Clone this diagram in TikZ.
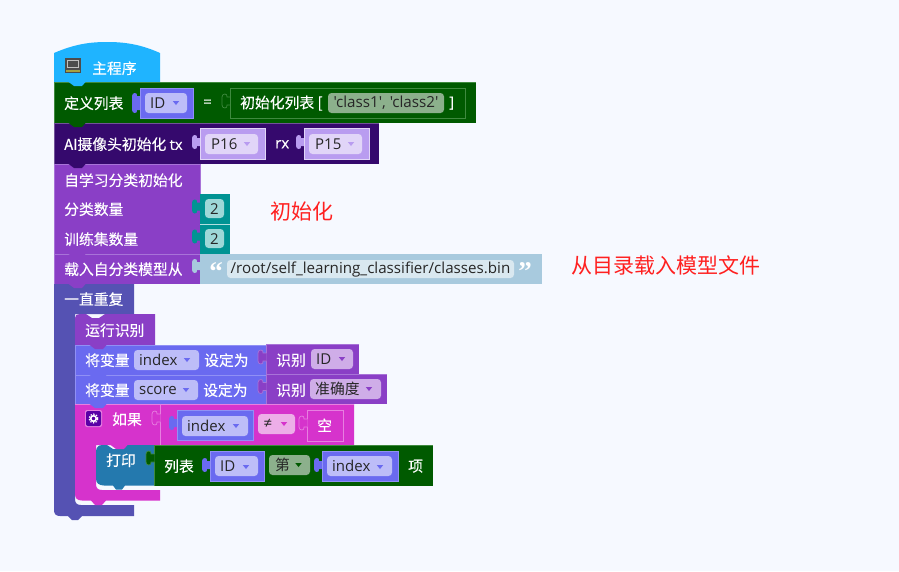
\documentclass[tikz,border=0pt]{standalone}
\usepackage{fontspec}
\setmainfont{Open Sans}
\newfontfamily\cjk{Noto Sans CJK SC}
\newfontfamily\cjkb[FakeBold=0.25]{Noto Sans CJK SC}
\newfontfamily\latb[FakeBold=0.25]{Open Sans}
\newfontfamily\lit[Ligatures=TeXOff]{Open Sans}
\newfontfamily\quotefont{Liberation Serif}
\definecolor{bgc}{HTML}{F6F9FF}
\definecolor{hatc}{HTML}{1FB4FF}
\definecolor{greenc}{HTML}{005A00}
\definecolor{greenl}{HTML}{3F8A3F}
\definecolor{darkp}{HTML}{35096D}
\definecolor{lilac}{HTML}{B99CF0}
\definecolor{lilacl}{HTML}{E1D5F8}
\definecolor{purp}{HTML}{8A3FC6}
\definecolor{purpl}{HTML}{A873D8}
\definecolor{purpp}{HTML}{CFADE8}
\definecolor{teal}{HTML}{009393}
\definecolor{tealp}{HTML}{9ED8D8}
\definecolor{strc}{HTML}{A8CADE}
\definecolor{strp}{HTML}{D9E8F0}
\definecolor{loopc}{HTML}{5552B3}
\definecolor{varc}{HTML}{6A6AF0}
\definecolor{varl}{HTML}{9090F5}
\definecolor{varp}{HTML}{BDBDF8}
\definecolor{mag}{HTML}{D633CC}
\definecolor{magl}{HTML}{E77FE0}
\definecolor{magp}{HTML}{EDAEE8}
\definecolor{printc}{HTML}{2479AE}
\definecolor{grnp}{HTML}{8CB08C}
\definecolor{redc}{HTML}{FF2020}
\tikzset{
  x=1pt,y=-1pt,
  lbl/.style={text=white,inner sep=0pt,anchor=west,yshift=-.2pt,font=\cjkb\fontsize{14.8}{16}\selectfont},
  latlbl/.style={text=white,inner sep=0pt,anchor=west,yshift=-.2pt,font=\latb\fontsize{15}{16}\selectfont},
  dark/.style={text=black!85,inner sep=0pt,yshift=-.2pt,font=\fontsize{15}{16}\selectfont},
  darkcjk/.style={text=black!85,inner sep=0pt,anchor=west,yshift=-.2pt,font=\cjk\fontsize{14.8}{16}\selectfont},
  note/.style={text=redc,inner sep=0pt,anchor=west,yshift=-.8pt,font=\cjk\fontsize{21}{24}\selectfont},
  quote/.style={text=white,inner sep=0pt,font=\quotefont\bfseries\fontsize{27}{27}\selectfont},
}
% statement block
\newcommand{\blk}[6]{\fill[#5] (#1,#2) rectangle (#3,#4);\draw[#6,line width=.8pt] (#1,#4) -- (#1,#2) -- (#3,#2);}
% notch below a statement
\newcommand{\ntch}[3]{\fill[#3] (#1+14,#2-.5) -- (#1+20,#2+4) -- (#1+28,#2+4) -- (#1+32,#2-.5) -- cycle;}
% tab path: x of the block's left edge, centre y, half height
\newcommand{\tabpath}[3]{(#1+.5,#2-#3+3) -- (#1-3,#2-#3+3) .. controls (#1-2,#2-#3-1) and (#1-8,#2-#3-1) .. (#1-8,#2-#3+3) -- (#1-8,#2+#3-3) .. controls (#1-8,#2+#3+1) and (#1-2,#2+#3+1) .. (#1-3,#2+#3-3) -- (#1+.5,#2+#3-3)}
\newcommand{\tabb}[3]{\fill[#3] \tabpath{#1}{#2}{7} -- cycle;}
\newcommand{\tabB}[3]{\fill[#3] \tabpath{#1}{#2}{10} -- cycle;}
\newcommand{\tabo}[4]{\fill[#3] \tabpath{#1}{#2}{7} -- cycle;\draw[#4,line width=.7pt] \tabpath{#1}{#2}{7};}
% value block with tab
\newcommand{\vbk}[6]{\tabb{#1}{#2+14}{#5}\fill[#5] (#1,#2) rectangle (#3,#4);\draw[#6,line width=.8pt] (#1,#2) rectangle (#3,#4);}
% pill
\newcommand{\pill}[5]{\fill[#5,rounded corners=3.5pt] (#1,#2) rectangle (#3,#4);}
% dropdown arrow
\newcommand{\arw}[3]{\fill[#3] (#1-3.2,#2-2) -- (#1+3.2,#2-2) -- (#1,#2+2) -- cycle;}
\begin{document}
\begin{tikzpicture}
\useasboundingbox (0,0) rectangle (899,571);
\fill[bgc] (0,0) rectangle (899,571);

% hat
\fill[hatc] (54,82) -- (54,53) .. controls (75,44) and (90,42) .. (107,42) .. controls (124,42) and (140,44) .. (160,53) -- (160,82) -- cycle;
\fill[black!70] (65,58) rectangle (81,73);
\fill[black!25] (67,60) rectangle (79,68);
\fill[black!70] (68,61) rectangle (78,67);
\fill[yellow!60!black] (66,70) rectangle (80,72);
\node[lbl] (hat) at (92,68) {主程序};

% define list
\blk{54}{82}{476}{123}{greenc}{greenl}
\ntch{54}{82}{hatc}
\tabB{140}{103}{varc}
\fill[varc] (140,88) rectangle (193,118);
\draw[varl,line width=.8pt] (140,88) rectangle (193,118);
\pill{145}{93}{187}{113}{varp}
\node[dark,anchor=west] (idA) at (150,103) {ID};
\arw{176}{103}{varc}
\node[lbl] (def) at (64,103) {定义列表};
\node[latlbl] (eq) at (203,103) {=};
\tabo{230}{101}{greenc}{greenl}
\draw[greenl,line width=.8pt] (230,88) rectangle (465,118);
\node[lbl] (ini) at (240,103) {初始化列表 [};
\pill{328}{93}{444}{113}{grnp}
\node[dark,font=\lit\fontsize{15.2}{16}\selectfont] (lst) at (386,103) {'class1', 'class2'};
\node[latlbl] (rb) at (449,103) {]};

% AI camera
\blk{54}{123}{379}{164}{darkp}{darkp!70!white}
\ntch{54}{123}{greenc}
\node[lbl] (ai) at (64,144) {AI摄像头初始化 {\latb tx}};
\vbk{200}{128}{265}{159}{lilac}{lilacl}
\pill{205}{134}{258}{154}{lilacl}
\node[dark,anchor=west] (p16) at (211,144) {P16};
\arw{247}{144}{lilac}
\node[latlbl] (rx) at (275,144) {rx};
\vbk{304}{128}{369}{159}{lilac}{lilacl}
\pill{309}{134}{362}{154}{lilacl}
\node[dark,anchor=west] (p15) at (315,144) {P15};
\arw{351}{144}{lilac}

% self learning
\blk{54}{164}{200}{254}{purp}{purpl}
\ntch{54}{164}{darkp}
\draw[purpl,line width=.8pt] (200,164) -- (200,194);
\node[lbl] (sl) at (64,180) {自学习分类初始化};
\node[lbl] (num) at (64,209) {分类数量};
\node[lbl] (tr) at (64,239) {训练集数量};
\tabb{200}{206.5}{teal}
\fill[teal] (200,194) rectangle (230,224);
\pill{205}{199}{224}{218}{tealp}
\node[dark] (two) at (214.5,209) {2};
\tabb{200}{236.5}{teal}
\fill[teal] (200,224) rectangle (230,254);
\draw[white!70!teal,line width=.6pt] (200,224) -- (230,224);
\pill{205}{229}{224}{248}{tealp}
\node[dark] (twob) at (214.5,239) {2};
\node[note] (n1) at (270,211) {初始化};

% load model
\blk{54}{254}{200}{284}{purp}{purpl}
\ntch{54}{254}{purp}
\tabb{200}{266}{strc}
\fill[strc] (200,254) rectangle (542,284);
\node[lbl] (load) at (64,269) {载入自分类模型从};
\pill{227}{260}{514}{278}{strp}
\node[dark,font=\fontsize{15.15}{16}\selectfont] (path) at (370.5,269) {/root/self\_learning\_classifier/classes.bin};
\node[quote] (q1) at (216,272) {“};
\node[quote] (q2) at (525,272) {”};
\node[note] (n2) at (571,265) {从目录载入模型文件};

% forever loop
\fill[loopc] (54,284) -- (134,284) -- (134,314) -- (75,314) -- (75,499) .. controls (75,503) and (77,505) .. (81,505) -- (134,505) -- (134,516) -- (82,516) -- (78,520) -- (72,520) -- (68,516) -- (60,516) .. controls (56,516) and (54,514) .. (54,510) -- cycle;
\ntch{54}{284}{purp}
\node[lbl] (lp) at (64,299) {一直重复};

% run
\fill[purp] (75,345) -- (75,318) .. controls (75,315) and (77,314) .. (80,314) -- (86,314) -- (92,318) -- (99,318) -- (105,314) -- (155,314) -- (155,345) -- cycle;
\node[lbl] (run) at (85,330) {运行识别};

% set index
\blk{75}{345}{266}{375}{varc}{varl}
\ntch{75}{345}{purp}
\node[lbl] (s1) at (85,360) {将变量};
\pill{134}{350}{199}{370}{varp}
\node[dark,anchor=west] (ix) at (139,360) {index};
\arw{187}{360}{varc}
\node[lbl] (s1b) at (204,360) {设定为};
\fill[purp] (266,344) rectangle (359,374);
\draw[purpl,line width=.8pt] (359,344) -- (266,344) -- (266,374);
\tabo{266}{357}{purp}{purpl}
\node[lbl] (r1) at (276,360) {识别};
\pill{311}{349}{353}{369}{purpp}
\node[dark,anchor=west] (id1) at (316,359) {ID};
\arw{342}{359}{purp}

% set score
\blk{75}{375}{266}{404}{varc}{varl}
\ntch{75}{375}{varc}
\node[lbl] (s2) at (85,390) {将变量};
\pill{134}{380}{198}{400}{varp}
\node[dark,anchor=west] (sc) at (139,390) {score};
\arw{186}{390}{varc}
\node[lbl] (s2b) at (203,390) {设定为};
\fill[purp] (266,374) rectangle (387,404);
\draw[purpl,line width=.8pt] (387,374) -- (266,374) -- (266,404);
\tabo{266}{386.5}{purp}{purpl}
\node[lbl] (r2) at (276,390) {识别};
\pill{310}{379}{381}{399}{purpp}
\node[darkcjk] (acc) at (315,389) {准确度};
\arw{369}{389}{purp}

% if
\fill[mag] (75,404) -- (354,404) -- (354,445) -- (96,445) -- (96,484) .. controls (96,488) and (98,490) .. (102,490) -- (160,490) -- (160,500.5) -- (106,500.5) -- (102,505) -- (95,505) -- (91,500.5) -- (82,500.5) .. controls (77,500.5) and (75,498) .. (75,494) -- cycle;
\draw[magl,line width=.8pt] (160,404) -- (160,445);
\draw[magl,line width=.8pt] (75,404) -- (354,404);
\ntch{75}{404}{varc}
\fill[magl,rounded corners=2pt] (85,410) rectangle (102,427);
\fill[violet!70!blue,rounded corners=2pt] (86,411) rectangle (101,426);
\draw[white,line width=1.6pt] (93.5,418.5) circle (2.8pt);
\draw[white,line width=1.2pt,dash pattern=on 1.4pt off 1.4pt] (93.5,418.5) circle (4.4pt);
\node[lbl] (if) at (112,419) {如果};
\tabo{160}{418}{mag}{magl}
\tabb{177}{423}{varc}
\fill[varc] (177,410) rectangle (253,440);
\draw[varl,line width=.8pt] (177,410) rectangle (253,440);
\pill{182}{416}{248}{436}{varp}
\node[dark,anchor=west] (ix2) at (187,426) {index};
\arw{236}{426}{varc}
\pill{258}{414}{295}{434}{magp}
\node[dark] (ne) at (268,424) {≠};
\arw{284}{424}{mag}
\draw[magl,line width=.8pt] (307,410) rectangle (343,441);
\tabo{307}{423}{mag}{magl}
\node[lbl] (em) at (317,425) {空};

% print
\fill[printc] (96,452) .. controls (96,448) and (98,445) .. (102,445) -- (107,445) -- (113,449) -- (120,449) -- (126,445) -- (154,445) -- (154,485.5) -- (125,485.5) -- (122,489.5) -- (116,489.5) -- (113,485.5) -- (104,485.5) .. controls (99,485.5) and (96,483) .. (96,479) -- cycle;
\ntch{96}{445}{mag}
\node[lbl] (pr) at (106,460) {打印};

% list item
\fill[greenc] (154,445) rectangle (433,486);
\draw[greenl,line width=.8pt] (154,486) -- (154,445) -- (433,445);
\tabo{154}{458}{greenc}{greenl}
\node[lbl] (li) at (164,466) {列表};
\tabb{210}{465}{varc}
\fill[varc] (210,451) rectangle (264,481);
\draw[varl,line width=.8pt] (210,451) rectangle (264,481);
\pill{215}{456}{258}{476}{varp}
\node[dark,anchor=west] (id2) at (220,466) {ID};
\arw{246}{467}{varc}
\pill{269}{455}{310}{475}{grnp}
\node[darkcjk] (di) at (275,465) {第};
\arw{298.5}{465}{greenc}
\tabb{322}{465}{varc}
\fill[varc] (322,451) rectangle (398,481);
\draw[varl,line width=.8pt] (322,451) rectangle (398,481);
\pill{327}{456}{392}{476}{varp}
\node[dark,anchor=west] (ix3) at (332,466) {index};
\arw{380}{467}{varc}
\node[lbl] (xi) at (408,466) {项};
\end{tikzpicture}
\end{document}
